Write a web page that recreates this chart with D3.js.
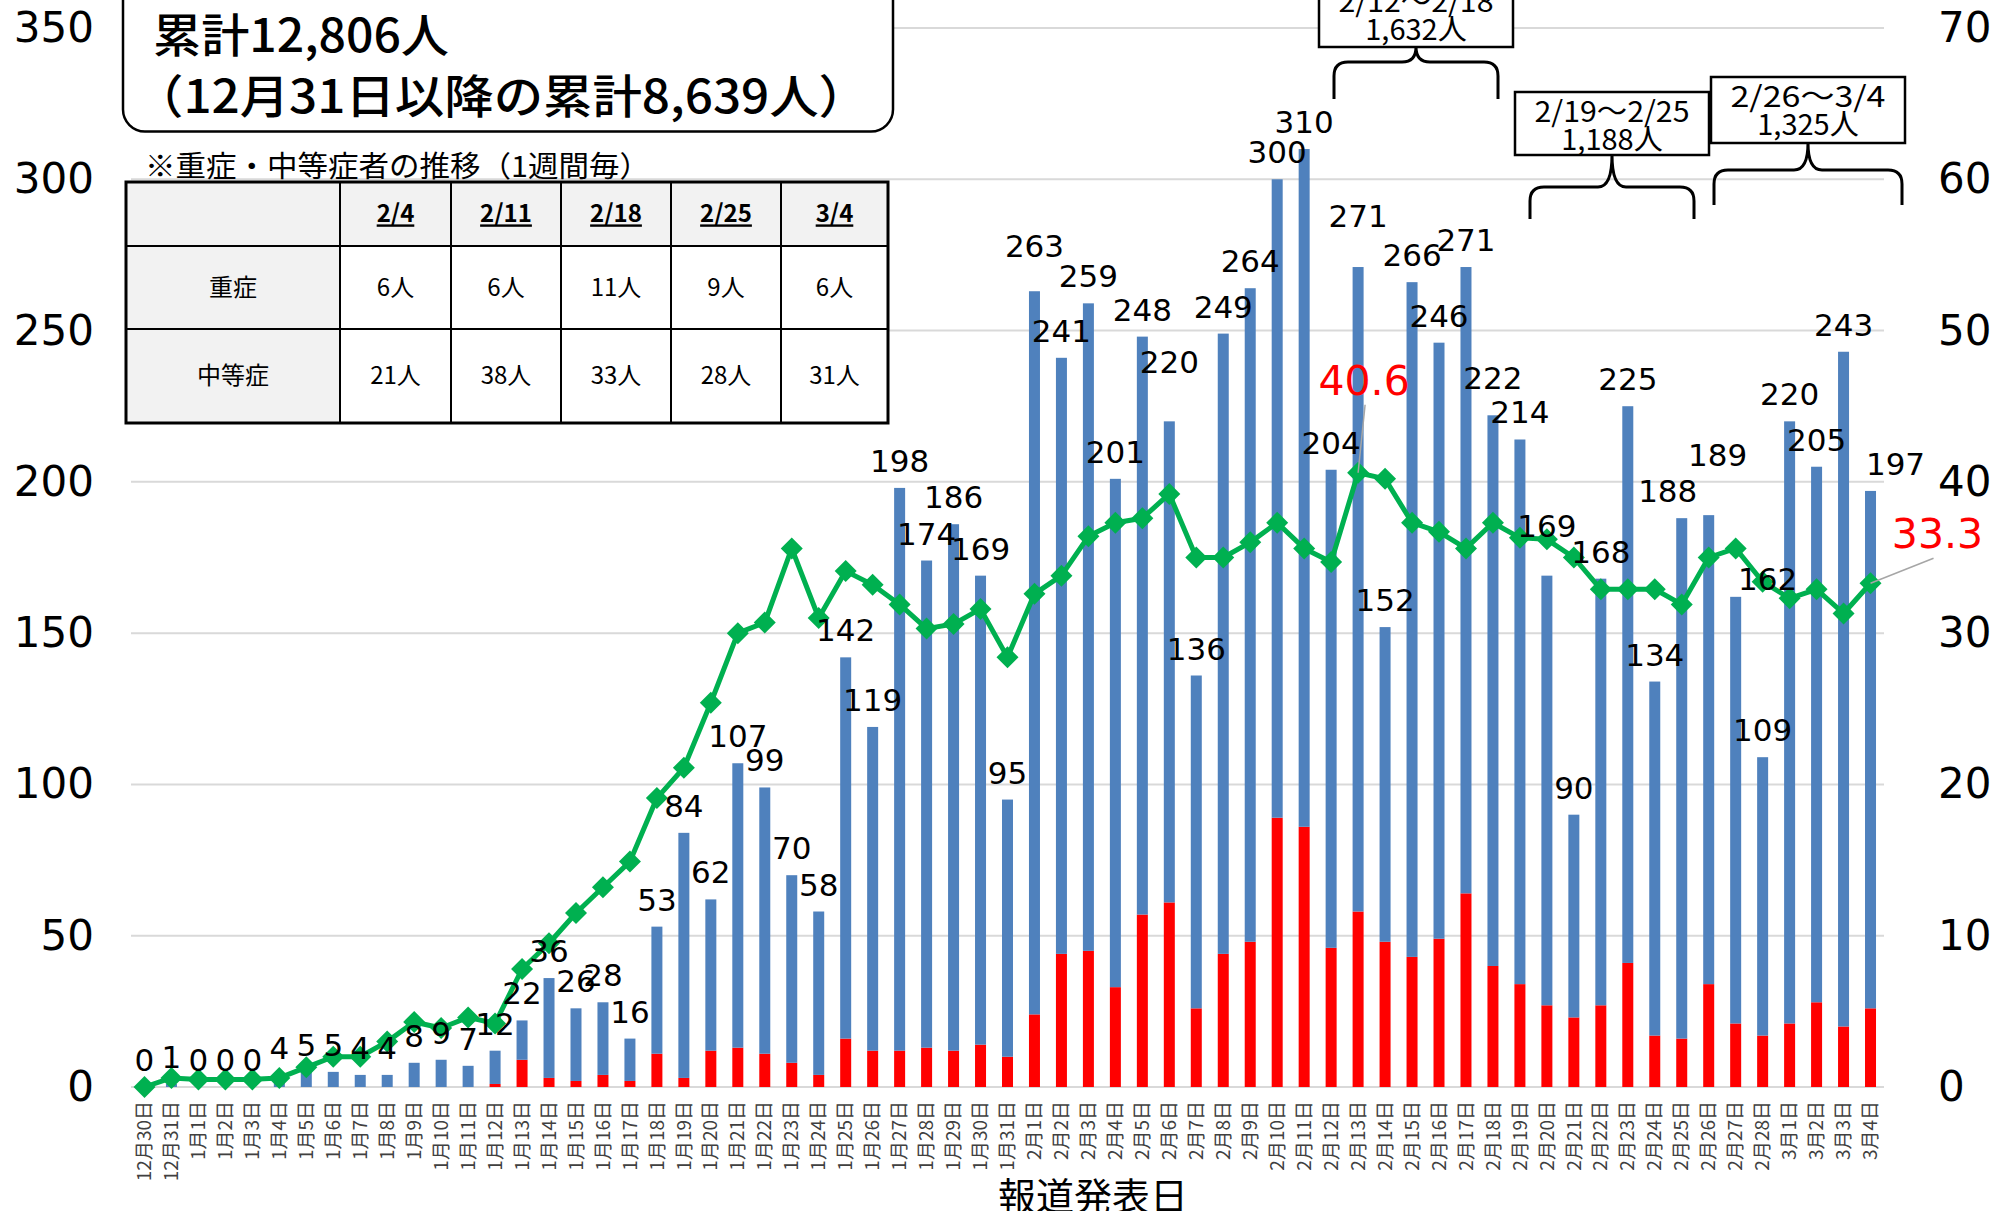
<!DOCTYPE html>
<html>
<head>
<meta charset="utf-8">
<script src="https://cdn.jsdelivr.net/npm/d3@7"></script>
<style>
  body { margin: 0; background: #fff; }
  svg { display: block; }
</style>
</head>
<body>
<div id="chart"></div>
<script>

// --- data ---
var dates = ["12月30日","12月31日",
  "1月1日","1月2日","1月3日","1月4日","1月5日","1月6日","1月7日","1月8日","1月9日","1月10日",
  "1月11日","1月12日","1月13日","1月14日","1月15日","1月16日","1月17日","1月18日","1月19日","1月20日",
  "1月21日","1月22日","1月23日","1月24日","1月25日","1月26日","1月27日","1月28日","1月29日","1月30日","1月31日",
  "2月1日","2月2日","2月3日","2月4日","2月5日","2月6日","2月7日","2月8日","2月9日","2月10日",
  "2月11日","2月12日","2月13日","2月14日","2月15日","2月16日","2月17日","2月18日","2月19日","2月20日",
  "2月21日","2月22日","2月23日","2月24日","2月25日","2月26日","2月27日","2月28日",
  "3月1日","3月2日","3月3日","3月4日"];

var totals = [0,1,
  0,0,0,4,5,5,4,4,8,9,
  7,12,22,36,26,28,16,53,84,62,
  107,99,70,58,142,119,198,174,186,169,95,
  263,241,259,201,248,220,136,249,264,300,
  310,204,271,152,266,246,271,222,214,169,
  90,168,225,134,188,189,162,109,
  220,205,243,197];

var redCounts = [0,0,
  0,0,0,0,0,0,0,0,0,0,
  0,1,9,3,2,4,2,11,3,12,
  13,11,8,4,16,12,12,13,12,14,10,
  24,44,45,33,57,61,26,44,48,89,
  86,46,58,48,43,49,64,40,34,27,
  23,27,41,17,16,34,21,17,
  21,28,20,26];

var rateValues = [0,0.6,
  0.5,0.5,0.5,0.6,1.3,2.0,2.0,3.0,4.3,3.9,
  4.6,4.2,7.8,9.5,11.5,13.2,14.9,19.1,21.1,25.4,
  30.0,30.7,35.6,31.0,34.1,33.2,31.9,30.3,30.6,31.6,28.4,
  32.6,33.8,36.4,37.3,37.6,39.2,35.0,35.0,36.0,37.3,
  35.6,34.7,40.6,40.2,37.3,36.7,35.6,37.3,36.3,36.2,
  35.0,32.9,32.9,32.9,31.9,35.0,35.6,33.4,
  32.3,32.9,31.3,33.3];

var leftTicks = [0,50,100,150,200,250,300,350];
var rightTicks = [0,10,20,30,40,50,60,70];

var tableDates = ["2/4","2/11","2/18","2/25","3/4"];
var severe = [6,6,11,9,6];
var moderate = [21,38,33,28,31];
var rowNames = ["重症","中等症"];

var weekText = ["2/12～2/18","2/19～2/25","2/26～3/4"];
var weekFrom = ["2月12日","2月19日","2月26日"];
var weekTo = ["2月18日","2月25日","3月4日"];

var totalText = "累計12,806人";
var tableTitle = "※重症・中等症者の推移（1週間毎）";
var xTitle = "報道発表日";

// --- layout ---
var width = 1998,
    height = 1211;
var numFont = "'DejaVu Sans', sans-serif";
var jpFont = "'Noto Sans CJK JP', 'Noto Sans', sans-serif";

// hand-moved data labels in the original [dx, dy]
var labelNudge = {
  "2月1日": [0, -18],
  "2月6日": [0, -32],
  "2月13日": [0, -24],
  "2月18日": [0, -10],
  "2月20日": [0, -23],
  "2月25日": [-14, 0],
  "2月26日": [9, -33],
  "2月27日": [32, 9],
  "3月4日": [25, 0]
};

var svg = d3.select("#chart").append("svg")
    .attr("width", width)
    .attr("height", height);

var x = d3.scaleBand().domain(dates).range([131, 1884]);
var y = d3.scaleLinear().domain([0, 350]).range([1087, 28]);
var y2 = d3.scaleLinear().domain([0, 70]).range([1087, 28]);
var barW = 11;
var fmt = d3.format(",");

function cx(d) { return x(d) + x.bandwidth() / 2; }

// gridlines
svg.append("g").selectAll("line")
    .data(leftTicks)
    .enter().append("line")
    .attr("x1", 131).attr("x2", 1884)
    .attr("y1", function(d) { return y(d); })
    .attr("y2", function(d) { return y(d); })
    .attr("stroke", "#d9d9d9")
    .attr("stroke-width", 2);

// axes (labels only)
var leftAxis = svg.append("g")
    .attr("transform", "translate(96,0)")
    .call(d3.axisLeft(y).tickValues(leftTicks).tickSize(0).tickPadding(2));
var rightAxis = svg.append("g")
    .attr("transform", "translate(1936,0)")
    .call(d3.axisRight(y2).tickValues(rightTicks).tickSize(0).tickPadding(2));
[leftAxis, rightAxis].forEach(function(a) {
  a.select(".domain").remove();
  a.selectAll("text")
      .attr("font-family", numFont)
      .attr("font-size", 42)
      .attr("fill", "#000");
});

// stacked bars
var bars = svg.append("g");
bars.selectAll("rect.red")
    .data(dates)
    .enter().append("rect")
    .attr("class", "red")
    .attr("x", function(d) { return cx(d) - barW / 2; })
    .attr("width", barW)
    .attr("y", function(d, i) { return y(redCounts[i]); })
    .attr("height", function(d, i) { return y(0) - y(redCounts[i]); })
    .attr("fill", "#ff0000");
bars.selectAll("rect.blue")
    .data(dates)
    .enter().append("rect")
    .attr("class", "blue")
    .attr("x", function(d) { return cx(d) - barW / 2; })
    .attr("width", barW)
    .attr("y", function(d, i) { return y(totals[i]); })
    .attr("height", function(d, i) { return y(redCounts[i]) - y(totals[i]); })
    .attr("fill", "#4f81bd");

// green line with diamond markers
var line = d3.line()
    .x(function(d, i) { return cx(dates[i]); })
    .y(function(d) { return y2(d); });

svg.append("path")
    .datum(rateValues)
    .attr("fill", "none")
    .attr("stroke", "#00b050")
    .attr("stroke-width", 5)
    .attr("stroke-linejoin", "round")
    .attr("d", line);

svg.append("g").selectAll("path")
    .data(rateValues)
    .enter().append("path")
    .attr("d", "M0,-11L11,0L0,11L-11,0Z")
    .attr("fill", "#00b050")
    .attr("transform", function(d, i) {
      return "translate(" + cx(dates[i]) + "," + y2(d) + ")";
    });

// bar value labels
function nudge(i, k) {
  var n = labelNudge[dates[i]];
  return n ? n[k] : 0;
}
svg.append("g").selectAll("text")
    .data(totals)
    .enter().append("text")
    .attr("x", function(d, i) { return cx(dates[i]) + nudge(i, 0); })
    .attr("y", function(d, i) { return y(d) - 16 + nudge(i, 1); })
    .attr("text-anchor", "middle")
    .attr("font-family", numFont)
    .attr("font-size", 31)
    .attr("fill", "#000")
    .text(function(d) { return d; });

// red callouts on the line: peak and latest value
var callouts = [
  { i: d3.maxIndex(rateValues), lx: 7, ly: -68, tx: 6, ty: -78 },
  { i: rateValues.length - 1, lx: 63, ly: -25, tx: 67, ty: -35 }
];
callouts.forEach(function(c) {
  var px = cx(dates[c.i]), py = y2(rateValues[c.i]);
  svg.append("line")
      .attr("x1", px).attr("y1", py)
      .attr("x2", px + c.lx).attr("y2", py + c.ly)
      .attr("stroke", "#a6a6a6")
      .attr("stroke-width", 1.5);
  svg.append("text")
      .attr("x", px + c.tx)
      .attr("y", py + c.ty)
      .attr("text-anchor", "middle")
      .attr("font-family", numFont)
      .attr("font-size", 41)
      .attr("fill", "#ff0000")
      .text(d3.format(".1f")(rateValues[c.i]));
});

// x tick labels (vertical)
svg.append("g").selectAll("text")
    .data(dates)
    .enter().append("text")
    .attr("transform", function(d) { return "translate(" + cx(d) + ",1101) rotate(-90)"; })
    .attr("dy", "0.35em")
    .attr("text-anchor", "end")
    .attr("font-family", jpFont)
    .attr("font-size", 19)
    .attr("fill", "#404040")
    .text(function(d) { return d; });

svg.append("text")
    .attr("x", 1093)
    .attr("y", 1210)
    .attr("text-anchor", "middle")
    .attr("font-family", jpFont)
    .attr("font-size", 38)
    .attr("fill", "#000")
    .text(xTitle);

// cumulative total box
svg.append("rect")
    .attr("x", 123).attr("y", -22)
    .attr("width", 770).attr("height", 153.5)
    .attr("rx", 22)
    .attr("fill", "#fff")
    .attr("stroke", "#000")
    .attr("stroke-width", 2.5);
svg.append("text")
    .attr("x", 153).attr("y", 52)
    .attr("font-family", jpFont)
    .attr("font-size", 46)
    .attr("font-weight", 500)
    .attr("textLength", 296)
    .attr("lengthAdjust", "spacingAndGlyphs")
    .text(totalText);
svg.append("text")
    .attr("x", 134).attr("y", 113)
    .attr("font-family", jpFont)
    .attr("font-size", 46)
    .attr("font-weight", 500)
    .attr("textLength", 734)
    .attr("lengthAdjust", "spacingAndGlyphs")
    .text("（12月31日以降の累計" + fmt(d3.sum(totals.slice(1))) + "人）");

// severity table
svg.append("text")
    .attr("x", 145).attr("y", 177)
    .attr("font-family", jpFont)
    .attr("font-size", 29)
    .attr("textLength", 505)
    .attr("lengthAdjust", "spacingAndGlyphs")
    .text(tableTitle);

var colX = [126, 340, 451, 561, 671, 781, 888];
var rowY = [182, 246, 329, 423];
var table = svg.append("g");
for (var r = 0; r < 3; r++) {
  for (var c = 0; c < 6; c++) {
    table.append("rect")
        .attr("x", colX[c]).attr("y", rowY[r])
        .attr("width", colX[c + 1] - colX[c])
        .attr("height", rowY[r + 1] - rowY[r])
        .attr("fill", (r === 0 || c === 0) ? "#f2f2f2" : "#fff")
        .attr("stroke", "#000")
        .attr("stroke-width", 2);
  }
}
table.append("rect")
    .attr("x", colX[0]).attr("y", rowY[0])
    .attr("width", colX[6] - colX[0])
    .attr("height", rowY[3] - rowY[0])
    .attr("fill", "none")
    .attr("stroke", "#000")
    .attr("stroke-width", 3);

function cell(c, r, txt, bold) {
  table.append("text")
      .attr("x", (colX[c] + colX[c + 1]) / 2)
      .attr("y", (rowY[r] + rowY[r + 1]) / 2)
      .attr("dy", "0.35em")
      .attr("text-anchor", "middle")
      .attr("font-family", jpFont)
      .attr("font-size", 24)
      .attr("font-weight", bold ? "bold" : "normal")
      .attr("text-decoration", bold ? "underline" : null)
      .text(txt);
}
tableDates.forEach(function(d, i) { cell(i + 1, 0, d, true); });
rowNames.forEach(function(d, i) { cell(0, i + 1, d, false); });
severe.forEach(function(d, i) { cell(i + 1, 1, d + "人", false); });
moderate.forEach(function(d, i) { cell(i + 1, 2, d + "人", false); });

// weekly totals with braces
var annCx = [1416, 1612, 1808];
var annTop = [-18, 92, 77];
var annH = [65, 63, 66];
var braceMid = [62, 187, 170];
var braceEnd = [99, 219, 205];
var braceHalf = [82, 82, 94];

weekText.forEach(function(w, k) {
  var from = dates.indexOf(weekFrom[k]), to = dates.indexOf(weekTo[k]);
  var sum = d3.sum(totals.slice(from, to + 1));
  var g = svg.append("g");
  var bx = annCx[k], top = annTop[k], bottom = top + annH[k];
  g.append("rect")
      .attr("x", bx - 97).attr("y", top)
      .attr("width", 194).attr("height", annH[k])
      .attr("fill", "#fff")
      .attr("stroke", "#000")
      .attr("stroke-width", 2.5);
  g.append("text")
      .attr("x", bx).attr("y", top + 30)
      .attr("text-anchor", "middle")
      .attr("font-family", jpFont)
      .attr("font-size", 29)
      .attr("textLength", 155)
      .attr("lengthAdjust", "spacingAndGlyphs")
      .text(w);
  g.append("text")
      .attr("x", bx).attr("y", top + 58)
      .attr("text-anchor", "middle")
      .attr("font-family", jpFont)
      .attr("font-size", 29)
      .text(fmt(sum) + "人");

  var x0 = bx - braceHalf[k], x1 = bx + braceHalf[k];
  var h = braceMid[k], e = braceEnd[k], t = bottom, rr = 14;
  var p = d3.path();
  p.moveTo(x0, e);
  p.lineTo(x0, h + rr);
  p.quadraticCurveTo(x0, h, x0 + rr, h);
  p.lineTo(bx - rr, h);
  p.quadraticCurveTo(bx, h, bx, t);
  p.quadraticCurveTo(bx, h, bx + rr, h);
  p.lineTo(x1 - rr, h);
  p.quadraticCurveTo(x1, h, x1, h + rr);
  p.lineTo(x1, e);
  g.append("path")
      .attr("d", p.toString())
      .attr("fill", "none")
      .attr("stroke", "#000")
      .attr("stroke-width", 3);
});

</script>
</body>
</html>
